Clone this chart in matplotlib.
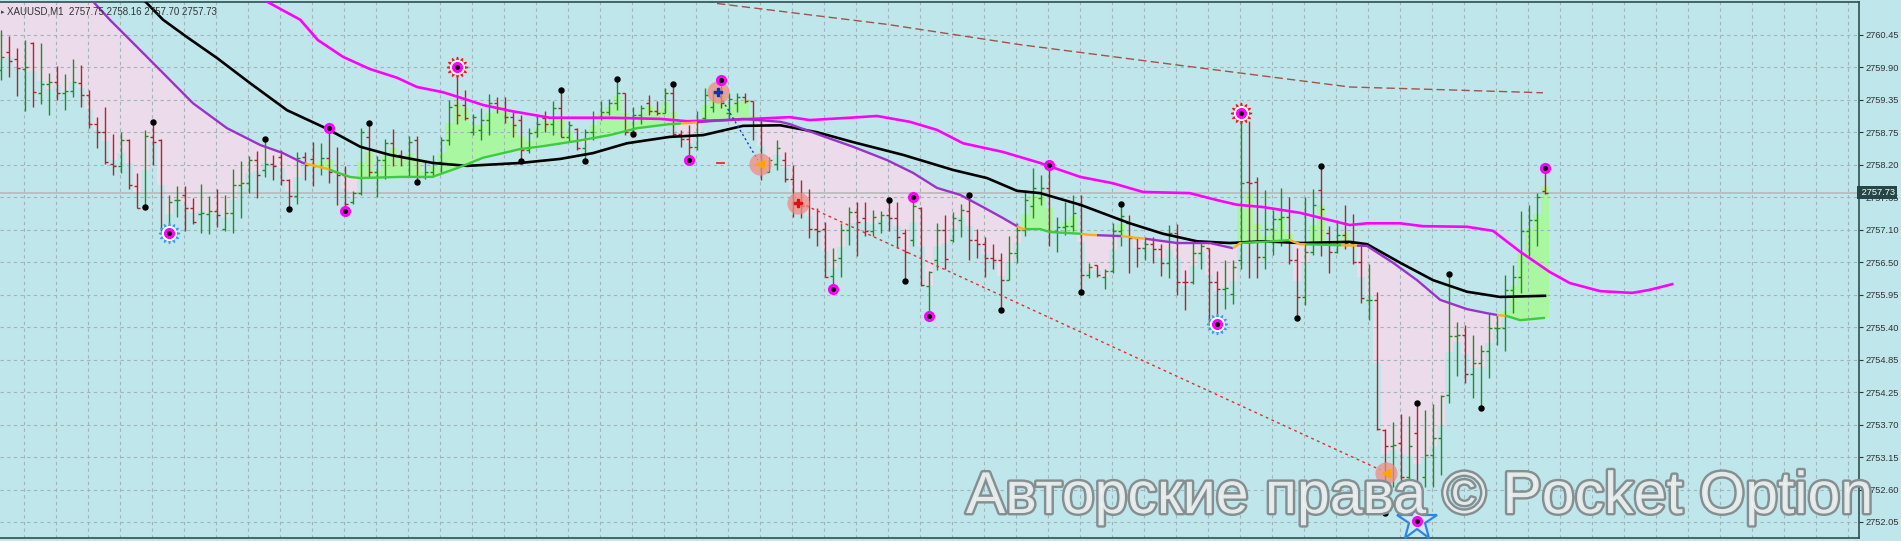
import numpy as np
import matplotlib
matplotlib.use('Agg')
import matplotlib.pyplot as plt
from matplotlib.collections import LineCollection
import matplotlib.patheffects as pe

# ---- M1 bars (index 0 = left edge of the screen) ----
opens = [2759.84, 2760.15, 2760.04, 2759.86, 2760.31, 2759.45, 2759.60, 2759.64, 2759.45, 2759.48,
         2759.62, 2759.41, 2758.92, 2758.77, 2758.22, 2758.19, 2758.63, 2757.85, 2757.48, 2758.69,
         2758.63, 2757.11, 2757.60, 2757.69, 2757.46, 2757.36, 2757.36, 2757.42, 2757.11, 2757.37,
         2757.86, 2757.89, 2758.29, 2758.12, 2758.22, 2758.35, 2757.95, 2757.67, 2758.35, 2758.30,
         2758.19, 2758.32, 2758.09, 2758.03, 2757.56, 2757.72, 2758.69, 2758.09, 2758.29, 2758.58,
         2758.38, 2758.35, 2758.64, 2758.00, 2758.09, 2758.26, 2758.64, 2759.24, 2759.24, 2758.78,
         2758.80, 2758.98, 2759.27, 2759.18, 2759.04, 2758.98, 2758.46, 2758.78, 2759.01, 2758.92,
         2759.18, 2758.69, 2758.82, 2758.49, 2758.78, 2759.04, 2759.12, 2759.27, 2759.44, 2758.78,
         2759.07, 2759.27, 2759.14, 2759.11, 2759.44, 2758.74, 2758.66, 2758.51, 2759.01, 2759.21,
         2759.44, 2759.10, 2759.27, 2759.38, 2759.30, 2758.98, 2758.09, 2758.23, 2758.29, 2757.97,
         2757.54, 2757.50, 2757.10, 2757.10, 2756.29, 2756.60, 2757.08, 2757.40, 2757.29, 2757.06,
         2757.20, 2757.34, 2757.29, 2757.04, 2756.91, 2757.47, 2756.12, 2756.57, 2757.08, 2756.91,
         2757.26, 2757.42, 2756.91, 2756.85, 2756.60, 2756.57, 2756.23, 2756.68, 2757.08, 2757.49,
         2757.63, 2757.80, 2757.06, 2757.14, 2757.16, 2757.52, 2756.31, 2756.48, 2756.28, 2756.37,
         2757.06, 2757.20, 2756.94, 2756.77, 2756.85, 2756.75, 2756.51, 2757.04, 2756.19, 2756.19,
         2756.68, 2756.77, 2756.19, 2756.06, 2755.98, 2756.57, 2757.92, 2757.92, 2756.62, 2757.11,
         2757.28, 2757.31, 2756.57, 2755.93, 2756.71, 2757.77, 2757.03, 2756.71, 2757.00, 2756.86,
         2756.54, 2755.88, 2755.88, 2753.64, 2753.36, 2753.41, 2752.83, 2753.58, 2752.83, 2753.21,
         2753.49, 2754.24, 2755.25, 2755.27, 2754.61, 2754.79, 2754.99, 2755.39, 2755.40, 2756.05,
         2756.28, 2757.07, 2757.26, 2757.75]
highs = [2760.54, 2760.43, 2760.22, 2760.36, 2760.32, 2760.30, 2759.79, 2759.91, 2759.77, 2760.04,
         2759.93, 2759.49, 2759.03, 2759.20, 2758.74, 2758.77, 2758.65, 2758.06, 2758.81, 2758.95,
         2758.65, 2757.69, 2757.84, 2757.85, 2757.63, 2757.88, 2757.67, 2757.79, 2757.69, 2758.13,
         2758.28, 2758.36, 2758.45, 2758.65, 2758.38, 2758.47, 2757.96, 2758.43, 2758.43, 2758.60,
         2758.58, 2758.84, 2758.51, 2758.19, 2757.75, 2758.85, 2758.93, 2758.36, 2758.65, 2758.82,
         2758.46, 2758.70, 2758.71, 2758.28, 2758.38, 2758.69, 2759.33, 2759.90, 2759.49, 2759.08,
         2759.18, 2759.43, 2759.38, 2759.38, 2759.12, 2759.07, 2758.84, 2759.07, 2759.14, 2759.31,
         2759.49, 2758.96, 2758.85, 2758.82, 2759.14, 2759.30, 2759.35, 2759.69, 2759.45, 2759.21,
         2759.24, 2759.41, 2759.31, 2759.53, 2759.61, 2758.81, 2758.89, 2759.14, 2759.53, 2759.50,
         2759.67, 2759.44, 2759.44, 2759.44, 2759.31, 2759.04, 2758.35, 2758.64, 2758.43, 2758.20,
         2757.95, 2757.79, 2757.46, 2757.23, 2756.78, 2757.20, 2757.48, 2757.56, 2757.56, 2757.43,
         2757.42, 2757.61, 2757.56, 2757.10, 2757.66, 2757.48, 2756.38, 2757.20, 2757.34, 2757.40,
         2757.54, 2757.69, 2757.11, 2756.97, 2756.85, 2756.69, 2756.98, 2757.20, 2757.78, 2758.15,
         2758.04, 2758.20, 2757.31, 2757.57, 2757.69, 2757.69, 2756.52, 2756.48, 2756.41, 2757.21,
         2757.53, 2757.34, 2756.97, 2756.97, 2756.96, 2756.84, 2757.17, 2757.19, 2756.39, 2756.86,
         2756.92, 2756.77, 2756.38, 2756.57, 2756.57, 2759.10, 2758.97, 2757.99, 2757.78, 2757.43,
         2757.80, 2757.66, 2756.77, 2757.65, 2757.79, 2758.19, 2757.15, 2757.25, 2757.52, 2757.36,
         2756.81, 2756.50, 2756.02, 2753.65, 2753.78, 2753.92, 2753.87, 2754.10, 2753.98, 2754.09,
         2754.24, 2756.32, 2755.50, 2755.45, 2755.27, 2755.10, 2755.65, 2755.62, 2756.31, 2756.48,
         2757.41, 2757.52, 2757.72, 2758.16]
lows = [2759.67, 2759.72, 2759.39, 2759.14, 2759.20, 2759.25, 2759.06, 2759.33, 2759.15, 2759.37,
        2759.20, 2758.84, 2758.49, 2758.23, 2758.03, 2758.07, 2757.79, 2757.47, 2757.48, 2758.21,
        2757.06, 2757.06, 2757.30, 2757.07, 2757.19, 2757.04, 2757.01, 2757.13, 2757.07, 2757.03,
        2757.29, 2757.73, 2757.63, 2757.99, 2757.95, 2757.86, 2757.45, 2757.54, 2757.95, 2757.85,
        2758.03, 2757.89, 2757.52, 2757.42, 2757.54, 2757.69, 2758.00, 2757.66, 2757.97, 2758.18,
        2758.18, 2758.00, 2757.92, 2757.96, 2757.99, 2758.06, 2758.55, 2758.92, 2758.98, 2758.72,
        2758.64, 2758.72, 2759.10, 2758.93, 2758.69, 2758.28, 2758.41, 2758.69, 2758.78, 2758.72,
        2758.69, 2758.61, 2758.46, 2758.28, 2758.64, 2758.98, 2759.07, 2759.15, 2758.73, 2758.74,
        2758.92, 2759.07, 2759.07, 2759.11, 2758.69, 2758.52, 2758.29, 2758.46, 2758.98, 2759.12,
        2759.18, 2758.98, 2759.12, 2759.27, 2758.64, 2757.95, 2758.09, 2758.12, 2757.92, 2757.31,
        2757.29, 2756.94, 2756.80, 2756.27, 2756.07, 2756.28, 2756.83, 2756.64, 2756.98, 2756.98,
        2757.04, 2757.06, 2756.78, 2756.21, 2756.81, 2756.12, 2755.60, 2756.39, 2756.42, 2756.88,
        2756.97, 2756.56, 2756.60, 2756.27, 2756.42, 2755.70, 2756.22, 2756.51, 2756.98, 2757.29,
        2757.51, 2756.80, 2756.71, 2757.00, 2757.06, 2756.02, 2756.25, 2756.28, 2756.06, 2756.34,
        2756.81, 2756.34, 2756.44, 2756.56, 2756.51, 2756.29, 2756.25, 2755.96, 2755.70, 2756.15,
        2756.42, 2755.50, 2755.48, 2755.73, 2755.81, 2756.42, 2756.25, 2756.25, 2756.41, 2756.65,
        2756.81, 2756.49, 2755.56, 2755.79, 2756.65, 2756.63, 2756.34, 2756.69, 2756.75, 2756.50,
        2755.83, 2755.53, 2753.64, 2752.21, 2752.65, 2752.72, 2752.72, 2752.06, 2752.65, 2752.65,
        2752.86, 2754.10, 2754.56, 2754.44, 2754.18, 2754.01, 2754.53, 2755.10, 2754.99, 2755.65,
        2755.99, 2756.64, 2756.81, 2757.70]
closes = [2760.06, 2759.99, 2759.88, 2759.89, 2759.47, 2759.61, 2759.63, 2759.45, 2759.48, 2759.64,
          2759.41, 2758.91, 2758.77, 2758.25, 2758.19, 2758.64, 2757.86, 2757.47, 2758.71, 2758.61,
          2757.11, 2757.56, 2757.61, 2757.46, 2757.23, 2757.38, 2757.42, 2757.34, 2757.37, 2757.86,
          2757.89, 2758.29, 2758.03, 2758.23, 2758.19, 2757.95, 2757.67, 2758.32, 2758.20, 2758.19,
          2758.32, 2758.09, 2758.03, 2757.54, 2757.72, 2758.78, 2758.09, 2758.29, 2758.58, 2758.38,
          2758.35, 2758.61, 2758.00, 2758.09, 2758.26, 2758.64, 2759.21, 2759.07, 2759.01, 2759.03,
          2758.98, 2759.27, 2759.18, 2759.04, 2758.89, 2758.46, 2758.75, 2758.92, 2758.92, 2759.18,
          2758.69, 2758.89, 2758.49, 2758.78, 2759.04, 2759.12, 2759.27, 2759.44, 2758.78, 2759.07,
          2759.18, 2759.14, 2759.11, 2759.44, 2758.74, 2758.66, 2758.51, 2758.98, 2759.41, 2759.44,
          2759.27, 2759.35, 2759.37, 2759.30, 2758.98, 2758.18, 2758.29, 2758.49, 2757.97, 2757.54,
          2757.49, 2757.10, 2757.07, 2756.28, 2756.57, 2757.08, 2757.40, 2757.23, 2757.06, 2757.31,
          2757.34, 2757.29, 2756.97, 2756.71, 2757.49, 2756.13, 2756.36, 2757.08, 2756.58, 2757.29,
          2757.43, 2756.91, 2756.85, 2756.60, 2756.57, 2756.22, 2756.68, 2757.08, 2757.60, 2757.80,
          2757.80, 2757.06, 2757.14, 2757.16, 2757.37, 2756.31, 2756.45, 2756.31, 2756.37, 2757.06,
          2757.33, 2756.94, 2756.77, 2756.85, 2756.75, 2756.51, 2757.04, 2756.19, 2756.18, 2756.68,
          2756.80, 2756.19, 2756.06, 2756.08, 2756.45, 2757.90, 2757.90, 2756.62, 2757.11, 2757.28,
          2757.31, 2756.57, 2755.93, 2756.71, 2757.52, 2757.44, 2756.71, 2757.00, 2756.86, 2756.54,
          2755.92, 2755.88, 2753.65, 2753.36, 2753.38, 2752.83, 2753.36, 2752.43, 2753.21, 2753.49,
          2754.22, 2755.25, 2755.27, 2754.61, 2754.79, 2754.99, 2755.39, 2755.40, 2756.05, 2756.28,
          2757.07, 2757.26, 2757.66, 2757.73]

# ---- indicator lines (bar index, price) ----
black_ma_x = [17.5, 20.25, 23.25, 27, 29, 31.1, 35.75, 40.75, 44.9, 48.6, 54, 58.25, 64.9, 69.9, 74,
              78.25, 83.6, 87.75, 92.75, 97.4, 102, 106.5, 112.75, 119, 123.25, 127, 129.9, 134.9,
              141.1, 145.25, 149.5, 153.6, 157.75, 162.4, 168.6, 170.75, 174.9, 179, 183.25, 187.4, 193]
black_ma_y = [2761.10, 2760.71, 2760.41, 2760.05, 2759.84, 2759.62, 2759.15, 2758.83, 2758.52, 2758.38,
              2758.24, 2758.19, 2758.24, 2758.31, 2758.41, 2758.58, 2758.69, 2758.72, 2758.88, 2758.89,
              2758.77, 2758.60, 2758.38, 2758.12, 2757.98, 2757.76, 2757.72, 2757.52, 2757.20, 2757.02,
              2756.89, 2756.86, 2756.89, 2756.86, 2756.88, 2756.84, 2756.52, 2756.22, 2756.02, 2755.93,
              2755.95]

magenta_ma_x = [32.2, 37.4, 39.6, 42.75, 46.1, 49.5, 52, 55.25, 58.25, 60.25, 63.6, 68.6, 76.1, 82.4,
                85.75, 90.75, 98.6, 101.1, 106.1, 109.5, 113.6, 117, 120.25, 125.25, 129.9, 130.9,
                134.9, 139, 142.75, 148.6, 152, 154.5, 157.75, 162.4, 168.6, 170.75, 174.9, 177.75,
                183.25, 186.5, 189.9, 193.6, 196.1, 199.9, 203.9, 206, 208.9]
magenta_ma_y = [2761.10, 2760.71, 2760.36, 2760.07, 2759.86, 2759.71, 2759.55, 2759.46, 2759.33,
                2759.24, 2759.14, 2759.02, 2759.02, 2759.00, 2758.96, 2758.98, 2759.03, 2758.98,
                2759.02, 2759.05, 2758.95, 2758.81, 2758.58, 2758.43, 2758.24, 2758.19, 2758.00,
                2757.89, 2757.74, 2757.72, 2757.60, 2757.52, 2757.48, 2757.38, 2757.17, 2757.20,
                2757.20, 2757.15, 2757.14, 2757.07, 2756.71, 2756.36, 2756.17, 2756.03, 2756.00,
                2756.05, 2756.15]

trend_x = [11.0, 13.6, 16.5, 19.9, 24, 28.25, 32.4, 35.25, 37.75, 40.75, 43.6, 44.9, 49.9, 53.9, 57,
           60.25, 62.75, 64.9, 67.75, 72, 76.1, 79.5, 83.6, 86.1, 88.6, 92.75, 97.4, 98.6, 102.4,
           106.5, 110.75, 114, 117, 119.9, 122.75, 125.25, 127, 127.75, 129.9, 131.1, 134.9, 136.1,
           139.9, 143.25, 147, 151.1, 154, 154.9, 157.75, 161.1, 162.4, 170.75, 174, 177, 179.9,
           183.25, 185.75, 187, 188.25, 189.9, 193]
trend_y = [2761.10, 2760.71, 2760.31, 2759.84, 2759.27, 2758.84, 2758.55, 2758.41, 2758.24, 2758.14,
           2758.00, 2757.98, 2758.00, 2758.00, 2758.15, 2758.33, 2758.41, 2758.48, 2758.53, 2758.62,
           2758.72, 2758.84, 2758.91, 2758.93, 2758.96, 2759.00, 2758.95, 2758.91, 2758.72, 2758.52,
           2758.29, 2758.07, 2757.81, 2757.69, 2757.48, 2757.29, 2757.15, 2757.10, 2757.10, 2757.05,
           2757.02, 2757.00, 2756.98, 2756.93, 2756.86, 2756.86, 2756.77, 2756.86, 2756.88, 2756.91,
           2756.84, 2756.81, 2756.52, 2756.22, 2755.88, 2755.72, 2755.65, 2755.62, 2755.60, 2755.53,
           2755.57]
# colour of the trend line between bar indices
trend_states = [(11.0, 38, 'down'), (38, 41, 'flat'), (41, 85, 'up'), (85, 87, 'flat'),
                (87, 127, 'down'), (127, 128, 'flat'), (128, 135, 'up'), (135, 137, 'flat'),
                (137, 140, 'down'), (140, 143, 'flat'), (143, 154, 'down'), (154, 155, 'flat'),
                (155, 161, 'up'), (161, 163, 'flat'), (163, 167.5, 'up'), (167.5, 169.5, 'flat'),
                (169.5, 187, 'down'), (187, 188, 'flat'), (188, 193, 'up')]

slow_ma_x = [88, 89.5, 110.75, 127.4, 147, 168.6, 181, 192.75]
slow_ma_y = [2761.05, 2760.99, 2760.63, 2760.28, 2759.93, 2759.55, 2759.50, 2759.45]

# ---- markers ----
fractal_x = [18, 19, 33, 36, 46, 52, 65, 70, 73, 77, 79, 84, 111, 113, 121, 125, 135, 140, 162,
             165, 173, 177, 181, 185]
fractal_y = [2757.48, 2758.95, 2758.65, 2757.45, 2758.93, 2757.92, 2758.28, 2759.49, 2758.28,
             2759.69, 2758.74, 2759.61, 2757.61, 2756.21, 2757.69, 2755.70, 2756.02, 2757.53,
             2755.56, 2758.19, 2752.21, 2754.10, 2756.32, 2754.01]
dot_x = [41, 43, 86, 90, 104, 114, 116, 131, 193]
dot_y = [2758.84, 2757.42, 2758.29, 2759.67, 2756.07, 2757.66, 2755.60, 2758.20, 2758.16]
sun_x, sun_y = [57, 155], [2759.90, 2759.10]
gear_x, gear_y = [21, 152], [2757.03, 2755.47]
star_x, star_y = [177], [2752.06]
trade_x = [89.6, 94.9, 99.6, 173.1]
trade_y = [2759.46, 2758.22, 2757.55, 2752.90]
trade_mark = ['P', '<', 'P', '<']
trade_mark_color = ['#1030c0', '#ffa500', '#e01010', '#ffa500']
blue_link = ([89.6, 94.6], [2759.46, 2758.29])
red_link = ([99.9, 172.4], [2757.55, 2752.95])

last_price = 2757.73
tick_labels = ['2760.45', '2759.90', '2759.35', '2758.75', '2758.20', '2757.65', '2757.10',
               '2756.50', '2755.95', '2755.40', '2754.85', '2754.25', '2753.70', '2753.15',
               '2752.60', '2752.05']
title = 'XAUUSD,M1  2757.75 2758.16 2757.70 2757.73'
watermark = 'Авторские права © Pocket Option'

BG = '#bfe6eb'
UP = '#228b22'
DN = '#a52a2a'

fig = plt.figure(figsize=(19.01, 5.41), dpi=100)
fig.patch.set_facecolor(BG)
ax = fig.add_axes([0, 3 / 541, 1859 / 1901, 536 / 541])
ax.set_facecolor(BG)
ax.set_xlim(-0.125, 232.25)
ax.set_ylim(2751.774, 2761.0155)

idx = np.arange(len(opens))
o = np.array(opens); h = np.array(highs); l = np.array(lows); c = np.array(closes)

# histogram fill between trend line and smoothed price
edge = (o + h + l + c) / 4
line_at = np.interp(idx, trend_x, trend_y, left=2762.0)
above = edge >= line_at
ax.bar(idx[above], (edge - line_at)[above], bottom=line_at[above], width=1.0,
       color='#aaf7a2', linewidth=0, antialiased=False, zorder=1)
ax.bar(idx[~above], (edge - line_at)[~above], bottom=line_at[~above], width=1.0,
       color='#ecdbea', linewidth=0, antialiased=False, zorder=1)

# grid
yt = np.linspace(2760.45, 2752.05, len(tick_labels))
gx = np.arange(2.91, 232.25, 4)
for g in gx:
    ax.axvline(g, color='#a3b4b8', lw=0.8, ls=(0, (3, 3)), zorder=1.2)
for g in yt:
    ax.axhline(g, color='#a3b4b8', lw=0.8, ls=(0, (3, 3)), zorder=1.2)
ax.axhline(last_price, color='#b9b9b9', lw=1.2, zorder=1.4)

# OHLC bars
up_segs, dn_segs = [], []
for i in idx:
    segs = [[(i, l[i]), (i, h[i])], [(i - 0.38, o[i]), (i, o[i])], [(i, c[i]), (i + 0.38, c[i])]]
    (up_segs if c[i] >= o[i] else dn_segs).extend(segs)
ax.add_collection(LineCollection(up_segs, colors=UP, linewidths=1.0, zorder=2))
ax.add_collection(LineCollection(dn_segs, colors=DN, linewidths=1.0, zorder=2))

# moving averages
ax.plot(slow_ma_x, slow_ma_y, color='#a0544c', lw=1.0, ls=(0, (6, 3)), zorder=2.5)
ax.plot(black_ma_x, black_ma_y, color='black', lw=1.9, zorder=3)
ax.plot(magenta_ma_x, magenta_ma_y, color='#ff00ff', lw=1.9, zorder=3)
state_color = {'down': '#9a33c8', 'up': '#3ccc3c', 'flat': '#ffae1a'}
for s, e, st in trend_states:
    xs = [s] + [x for x in trend_x if s < x < e] + [e]
    ax.plot(xs, np.interp(xs, trend_x, trend_y), color=state_color[st], lw=1.7,
            solid_capstyle='butt', zorder=3.1)

# trade links
ax.plot(*blue_link, color='#1838c8', lw=1.0, ls=(0, (1.5, 2)), zorder=3.5)
ax.plot(*red_link, color='#e03030', lw=1.0, ls=(0, (2, 2.5)), zorder=3.5)
ax.plot([89.5, 90.4], [2758.24, 2758.24], color='#e03030', lw=1.3, zorder=3.5)

# markers
ax.plot(fractal_x, fractal_y, 'o', color='black', ms=3.6, zorder=4)
for mx, my, col in [(sun_x, sun_y, '#e81c1c'), (gear_x, gear_y, '#3a9af0')]:
    ax.plot(mx, my, marker=(12, 1, 0), ls='none', ms=15, color=col, zorder=4)
    ax.plot(mx, my, 'o', ms=10, color='white', zorder=4.1)
ax.plot(star_x, star_y, marker='*', ls='none', ms=30, mfc='#cfe8f6', mec='#2f86e0',
        mew=1.6, zorder=4)
ax.plot(dot_x + sun_x + gear_x + star_x, dot_y + sun_y + gear_y + star_y, 'o', ls='none',
        ms=7, color='#ff00ff', zorder=4.2)
ax.plot(dot_x + sun_x + gear_x + star_x, dot_y + sun_y + gear_y + star_y, 'o', ls='none',
        ms=2.6, color='black', zorder=4.3)
ax.plot(trade_x, trade_y, 'o', ls='none', ms=16, color='#f28a80', alpha=0.75, mec='none', zorder=4)
for tx, ty, m, mc in zip(trade_x, trade_y, trade_mark, trade_mark_color):
    ax.plot(tx, ty, marker=m, ms=6, color=mc, zorder=4.4)

# axes styling
ax.spines['left'].set_visible(False)
for side in ['right', 'top', 'bottom']:
    ax.spines[side].set_color('#2f4f4f')
    ax.spines[side].set_linewidth(1.2)
ax.set_xticks([])
ax.yaxis.tick_right()
ax.set_yticks(yt)
ax.set_yticklabels(tick_labels, fontsize=6.7, family='Liberation Sans', color='#333333')
ax.tick_params(axis='y', length=3, width=0.8, color='#333333', pad=2)

ax.text(1.0, last_price, ' ' + f'{last_price:.2f}', transform=ax.get_yaxis_transform(),
        ha='left', va='center', fontsize=6.7, family='Liberation Sans', color='white',
        bbox=dict(boxstyle='square,pad=0.25', fc='#244646', ec='none'), zorder=10, clip_on=False)

fig.text(1 / 1901, 1 - 12 / 541, '\u25b8', fontsize=5, color='#444444', va='center')
fig.text(7 / 1901, 1 - 11 / 541, title, fontsize=7, family='Liberation Sans',
         color='#333333', va='center')

fig.text(966 / 1901, 1 - 513 / 541, watermark, fontsize=42.5, family='Liberation Sans',
         color=(0.95, 0.97, 0.97, 0.88), va='baseline', zorder=20,
         path_effects=[pe.withStroke(linewidth=3.5, foreground='#858f91')])

fig.savefig('out.png', dpi=100, facecolor=BG)
